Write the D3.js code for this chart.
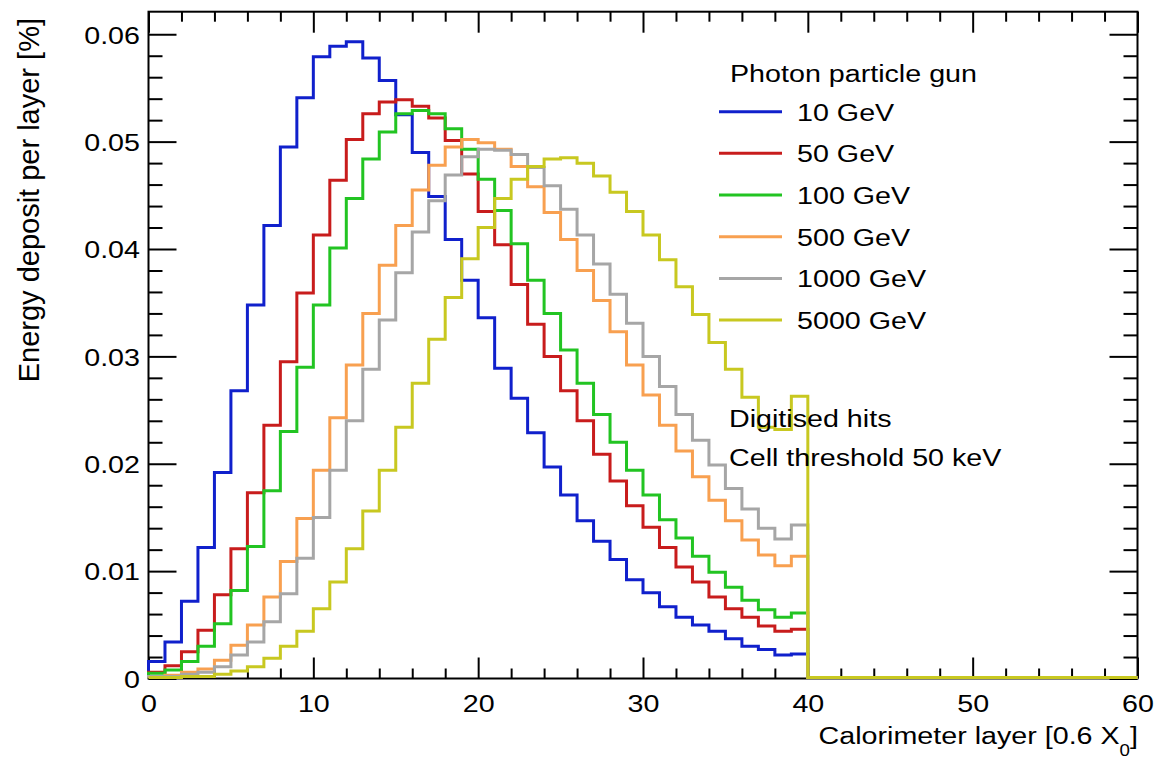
<!DOCTYPE html>
<html>
<head>
<meta charset="utf-8">
<script src="https://cdn.jsdelivr.net/npm/d3@7"></script>
<style>
  body { margin: 0; background: #fff; }
  svg { display: block; }
  text { font-family: "Liberation Sans", Arial, Helvetica, sans-serif; fill: #000; }
</style>
</head>
<body>
<svg id="chart" width="1155" height="762"></svg>
<script>
// ---------------- data ----------------
const nLayers = 60;            // calorimeter layers on the x axis
const filledLayers = 40;       // layers with deposits (40..59 are empty)
const xTicks = [0, 10, 20, 30, 40, 50, 60];
const xMinorTicks = [2,4,6,8,12,14,16,18,22,24,26,28,32,34,36,38,42,44,46,48,52,54,56,58];
const yTicks = [0, 0.01, 0.02, 0.03, 0.04, 0.05, 0.06];
const yMinorTicks = [0.002,0.004,0.006,0.008,0.012,0.014,0.016,0.018,0.022,0.024,0.026,0.028,
                     0.032,0.034,0.036,0.038,0.042,0.044,0.046,0.048,0.052,0.054,0.056,0.058];

const seriesNames = ["10 GeV", "50 GeV", "100 GeV", "500 GeV", "1000 GeV", "5000 GeV"];
const seriesColors = ["#1020cc", "#c81c1c", "#22c422", "#f8a050", "#a6a6a6", "#c8c820"];

const e10 = [0.0015,0.0033,0.0071,0.0121,0.0191,0.0267,0.0347,0.0421,0.0494,0.0540,
             0.0578,0.0588,0.0592,0.0577,0.0556,0.0524,0.0489,0.0448,0.0408,0.0370,
             0.0335,0.0288,0.0260,0.0228,0.0196,0.0170,0.0146,0.0127,0.0110,0.0091,
             0.0079,0.0066,0.0056,0.0049,0.0043,0.0036,0.0029,0.0026,0.0021,0.0022];
const e50 = [0.0005,0.0011,0.0024,0.0044,0.0077,0.0120,0.0172,0.0235,0.0294,0.0358,
             0.0412,0.0463,0.0501,0.0525,0.0536,0.0538,0.0532,0.0521,0.0500,0.0469,
             0.0434,0.0403,0.0366,0.0329,0.0299,0.0267,0.0239,0.0208,0.0183,0.0160,
             0.0140,0.0121,0.0103,0.0089,0.0075,0.0064,0.0056,0.0048,0.0043,0.0045];
const e100 = [0.0004,0.0007,0.0015,0.0029,0.0050,0.0081,0.0122,0.0174,0.0229,0.0289,
              0.0347,0.0400,0.0446,0.0483,0.0508,0.0525,0.0528,0.0525,0.0511,0.0492,
              0.0464,0.0435,0.0404,0.0370,0.0339,0.0305,0.0274,0.0245,0.0219,0.0193,
              0.0170,0.0147,0.0130,0.0113,0.0098,0.0084,0.0072,0.0063,0.0056,0.0060];
const e500 = [0.0001,0.0002,0.0005,0.0008,0.0016,0.0030,0.0049,0.0075,0.0108,0.0148,
              0.0193,0.0242,0.0291,0.0339,0.0384,0.0421,0.0454,0.0477,0.0494,0.0501,
              0.0498,0.0492,0.0476,0.0457,0.0433,0.0408,0.0379,0.0351,0.0322,0.0291,
              0.0263,0.0235,0.0211,0.0187,0.0165,0.0146,0.0128,0.0114,0.0104,0.0113];
const e1000 = [0.0001,0.0001,0.0003,0.0005,0.0010,0.0021,0.0033,0.0052,0.0078,0.0111,
               0.0149,0.0193,0.0239,0.0287,0.0333,0.0377,0.0415,0.0444,0.0468,0.0485,
               0.0492,0.0491,0.0487,0.0475,0.0458,0.0436,0.0412,0.0385,0.0357,0.0330,
               0.0299,0.0271,0.0245,0.0221,0.0198,0.0176,0.0157,0.0139,0.0129,0.0142];
const e5000 = [0.0000,0.0000,0.0001,0.0001,0.0003,0.0006,0.0010,0.0018,0.0029,0.0043,
               0.0064,0.0089,0.0120,0.0155,0.0193,0.0233,0.0274,0.0315,0.0354,0.0390,
               0.0419,0.0446,0.0464,0.0476,0.0483,0.0484,0.0479,0.0467,0.0452,0.0434,
               0.0412,0.0389,0.0364,0.0338,0.0312,0.0287,0.0261,0.0233,0.0231,0.0262];
const seriesValues = [e10, e50, e100, e500, e1000, e5000];

const legendTitle = "Photon particle gun";
const notes = ["Digitised hits", "Cell threshold 50 keV"];
const xTitle = "Calorimeter layer [0.6 X";
const yTitle = "Energy deposit per layer [%]";

// ---------------- layout ----------------
const frame = { left: 148.5, right: 1137.5, top: 11.7, bottom: 678.5 };
const FS = 24.5, SX = 1.17;   // text size and horizontal stretch of the reference font

const svg = d3.select("#chart");
const x = d3.scaleLinear().domain([0, nLayers]).range([frame.left, frame.right]);
const y = d3.scaleLinear().domain([0, 0.0621]).range([frame.bottom, frame.top]);

// ---------------- frame ticks ----------------
function clean(g) {
  g.select(".domain").remove();
  g.selectAll(".tick line").attr("stroke", "#000").attr("stroke-width", 2);
}
// frame (drawn first so the empty-bin histogram line shows along the bottom)
svg.append("rect")
  .attr("x", frame.left).attr("y", frame.top)
  .attr("width", frame.right - frame.left).attr("height", frame.bottom - frame.top)
  .attr("fill", "none").attr("stroke", "#000").attr("stroke-width", 2);

// bottom
svg.append("g").attr("transform", `translate(0,${frame.bottom})`)
  .call(d3.axisBottom(x).tickValues(xTicks).tickSize(-21).tickFormat(d3.format("d")))
  .call(clean)
  .call(g => g.selectAll(".tick text")
    .attr("y", null).attr("dy", null)
    .attr("font-size", FS).attr("text-anchor", "middle")
    .attr("transform", `translate(0,33.2) scale(${SX},1)`));
svg.append("g").attr("transform", `translate(0,${frame.bottom})`)
  .call(d3.axisBottom(x).tickValues(xMinorTicks).tickSize(-10).tickFormat(""))
  .call(clean);
// top
svg.append("g").attr("transform", `translate(0,${frame.top})`)
  .call(d3.axisTop(x).tickValues(xTicks).tickSize(-21).tickFormat(""))
  .call(clean);
svg.append("g").attr("transform", `translate(0,${frame.top})`)
  .call(d3.axisTop(x).tickValues(xMinorTicks).tickSize(-10).tickFormat(""))
  .call(clean);
// left
svg.append("g").attr("transform", `translate(${frame.left},0)`)
  .call(d3.axisLeft(y).tickValues(yTicks).tickSize(-28)
        .tickFormat(d => d === 0 ? "0" : d3.format(".2f")(d)))
  .call(clean)
  .call(g => g.selectAll(".tick text")
    .attr("x", null).attr("dy", null)
    .attr("font-size", FS).attr("text-anchor", "end")
    .attr("transform", `translate(-8.5,8.8) scale(${SX},1)`));
svg.append("g").attr("transform", `translate(${frame.left},0)`)
  .call(d3.axisLeft(y).tickValues(yMinorTicks).tickSize(-14).tickFormat(""))
  .call(clean);
// right
svg.append("g").attr("transform", `translate(${frame.right},0)`)
  .call(d3.axisRight(y).tickValues(yTicks).tickSize(-28).tickFormat(""))
  .call(clean);
svg.append("g").attr("transform", `translate(${frame.right},0)`)
  .call(d3.axisRight(y).tickValues(yMinorTicks).tickSize(-14).tickFormat(""))
  .call(clean);

// ---------------- histograms ----------------
const line = d3.line().x(d => x(d[0])).y(d => y(d[1]) - 1).curve(d3.curveStepAfter);
const hg = svg.append("g");
seriesValues.forEach((vals, s) => {
  const full = vals.concat(new Array(nLayers - filledLayers).fill(0));
  const pts = [[0, 0]].concat(full.map((v, i) => [i, v]));
  pts.push([nLayers, full[full.length - 1]]);
  hg.append("path")
    .attr("d", line(pts))
    .attr("fill", "none")
    .attr("stroke", seriesColors[s])
    .attr("stroke-width", 3)
    .attr("stroke-linejoin", "miter");
});

// ---------------- titles ----------------
const xt = svg.append("text")
  .attr("text-anchor", "end").attr("font-size", FS)
  .attr("transform", `translate(1138,744) scale(${SX},1)`);
xt.append("tspan").text(xTitle);
xt.append("tspan").attr("font-size", 16).attr("dy", 12).text("0");
xt.append("tspan").attr("dy", -12).text("]");

svg.append("text")
  .attr("text-anchor", "end").attr("font-size", 29)
  .attr("transform", "translate(39,18) rotate(-90)")
  .text(yTitle);

// ---------------- legend ----------------
const leg = svg.append("g");
leg.append("text").attr("font-size", FS)
  .attr("transform", `translate(730,81.7) scale(${SX},1)`)
  .text(legendTitle);
seriesNames.forEach((name, i) => {
  const ly = 111.7 + 41.67 * i;
  leg.append("line")
    .attr("x1", 719).attr("x2", 782).attr("y1", ly).attr("y2", ly)
    .attr("stroke", seriesColors[i]).attr("stroke-width", 3);
  leg.append("text").attr("font-size", FS)
    .attr("transform", `translate(797,${ly + 9}) scale(${SX},1)`)
    .text(name);
});

// annotations
notes.forEach((t, i) => {
  svg.append("text").attr("font-size", FS)
    .attr("transform", `translate(729,${427.3 + 38.7 * i}) scale(${SX},1)`)
    .text(t);
});
</script>
</body>
</html>
